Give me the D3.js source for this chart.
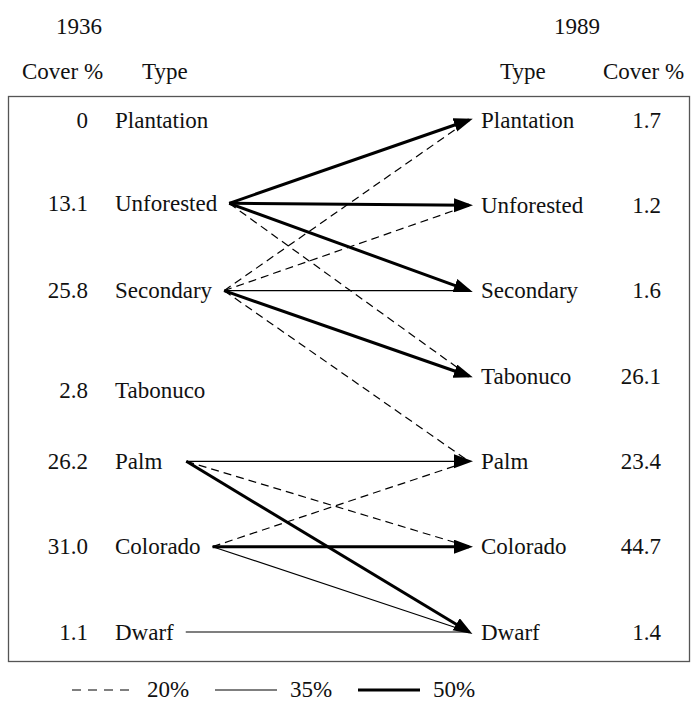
<!DOCTYPE html>
<html>
<head>
	<meta charset="utf-8"/>
	<script src="https://cdn.jsdelivr.net/npm/d3@7"></script>
</head>
<body style="margin:0;background:#fff">
<script>
// forest types, same order for both years
var types = ["Plantation","Unforested","Secondary","Tabonuco","Palm","Colorado","Dwarf"];
var cover1936 = ["0","13.1","25.8","2.8","26.2","31.0","1.1"];
var cover1989 = ["1.7","1.2","1.6","26.1","23.4","44.7","1.4"];
var years = ["1936","1989"];
var legendLevels = [20,35,50];

// transitions 1936 -> 1989, pct = line class
var flows = [
	{from:"Unforested", to:"Plantation", pct:50},
	{from:"Unforested", to:"Unforested", pct:50},
	{from:"Unforested", to:"Secondary",  pct:50},
	{from:"Unforested", to:"Tabonuco",   pct:20},
	{from:"Secondary",  to:"Plantation", pct:20},
	{from:"Secondary",  to:"Unforested", pct:20},
	{from:"Secondary",  to:"Secondary",  pct:35},
	{from:"Secondary",  to:"Tabonuco",   pct:50},
	{from:"Secondary",  to:"Palm",       pct:20},
	{from:"Palm",       to:"Palm",       pct:35},
	{from:"Palm",       to:"Colorado",   pct:20},
	{from:"Palm",       to:"Dwarf",      pct:50},
	{from:"Colorado",   to:"Palm",       pct:20},
	{from:"Colorado",   to:"Colorado",   pct:50},
	{from:"Colorado",   to:"Dwarf",      pct:35},
	{from:"Dwarf",      to:"Dwarf",      pct:35}
];

var W = 697, H = 701;
var svg = d3.select("body").append("svg").attr("width",W).attr("height",H);

var y = d3.scalePoint().domain(types).range([120,632]);
var style = {
	20:{w:1.2, dash:"8,5"},
	35:{w:1.1, dash:null},
	50:{w:3,   dash:null}
};

// serif text, style set on every text element
function font(sel){
	return sel.style("font-family","'Liberation Serif'").style("font-size","23px").attr("fill","#111");
}
function txt(x,yy,s){
	return font(svg.append("text")).attr("x",x).attr("y",yy).text(s);
}

// frame
svg.append("rect").attr("x",8.5).attr("y",96.5).attr("width",681).attr("height",565)
	.attr("fill","none").attr("stroke","#555").attr("stroke-width",1.3);

// headers
font(svg.selectAll("text.year").data(years).enter().append("text"))
	.attr("x",function(d,i){return i==0?79:577;}).attr("y",34)
	.attr("text-anchor","middle").text(function(d){return d;});
txt(22,79,"Cover %");
txt(142,79,"Type");
txt(500,79,"Type");
txt(603,79,"Cover %");

// left labels (Tabonuco sits a bit lower on the left side)
function leftY(t){ return y(t) + (t=="Tabonuco"?14:0) - (t=="Unforested"?2:0); }
font(svg.selectAll("text.c36").data(types).enter().append("text"))
	.attr("x",88).attr("y",function(d){return leftY(d);}).attr("dy","0.33em")
	.attr("text-anchor","end").text(function(d,i){return cover1936[i];});
var leftTypes = font(svg.selectAll("text.t36").data(types).enter().append("text"))
	.attr("x",115).attr("y",function(d){return leftY(d);}).attr("dy","0.33em")
	.text(function(d){return d;});

// right labels
font(svg.selectAll("text.t89").data(types).enter().append("text"))
	.attr("x",481).attr("y",function(d){return y(d);}).attr("dy","0.33em")
	.text(function(d){return d;});
font(svg.selectAll("text.c89").data(types).enter().append("text"))
	.attr("x",661).attr("y",function(d){return y(d);}).attr("dy","0.33em")
	.attr("text-anchor","end").text(function(d,i){return cover1989[i];});

// where each source line starts = end of its label + gap
var startX = {};
leftTypes.each(function(d){ startX[d] = 115 + this.getComputedTextLength() + (d=="Palm"?24:12); });

svg.append("defs").append("marker")
	.attr("id","head").attr("markerUnits","userSpaceOnUse")
	.attr("markerWidth",20).attr("markerHeight",16)
	.attr("refX",15).attr("refY",7).attr("orient","auto")
	.append("path").attr("d","M0,0 L19,7 L0,14 Z").attr("fill","#000");

// arrowhead goes on the heaviest line into each target
var headOf = {};
flows.forEach(function(f,i){
	if(headOf[f.to]===undefined || f.pct > flows[headOf[f.to]].pct) headOf[f.to]=i;
});

var endX = 469;
svg.selectAll("line.flow").data(flows).enter().append("line")
	.attr("x1",function(d){return startX[d.from];})
	.attr("y1",function(d){return leftY(d.from);})
	.attr("x2",endX)
	.attr("y2",function(d){return y(d.to);})
	.attr("stroke","#000")
	.attr("stroke-width",function(d){return style[d.pct].w;})
	.attr("stroke-dasharray",function(d){return style[d.pct].dash;})
	.attr("marker-end",function(d,i){return headOf[d.to]===i?"url(#head)":null;});

// legend
var lg = svg.selectAll("g.lg").data(legendLevels).enter().append("g")
	.attr("transform",function(d,i){return "translate("+(72+i*143)+",690)";});
lg.append("line").attr("x1",0).attr("x2",62).attr("y1",0).attr("y2",0)
	.attr("stroke","#000")
	.attr("stroke-width",function(d){return style[d].w;})
	.attr("stroke-dasharray",function(d){return d==20?"9,7":null;});
font(lg.append("text")).attr("x",75).attr("dy","0.3em").text(function(d){return d+"%";});
</script>
</body>
</html>
